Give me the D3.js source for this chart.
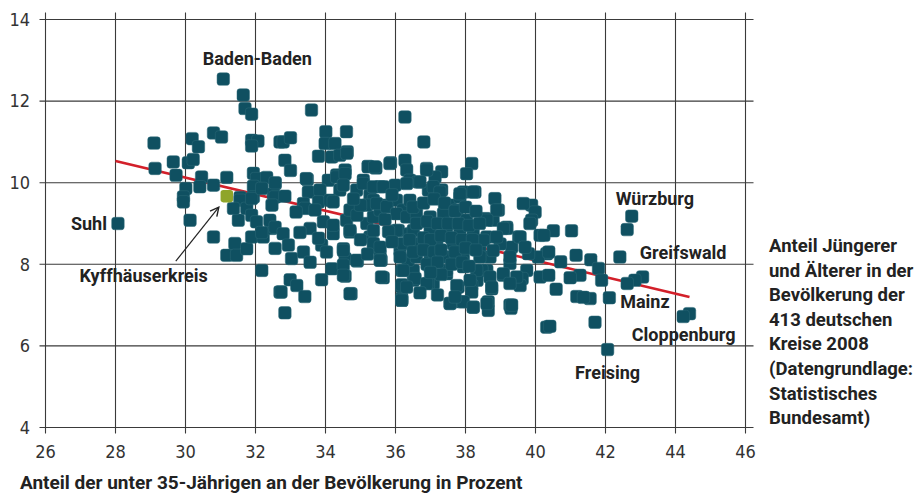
<!DOCTYPE html>
<html>
<head>
<meta charset="utf-8">
<script src="https://cdn.jsdelivr.net/npm/d3@7"></script>
<style>
  html, body { margin: 0; padding: 0; background: #fff; }
  svg { display: block; }
  .tick-label { font-family: "Liberation Sans Narrow", "DejaVu Sans Condensed", sans-serif; font-size: 18px; fill: #333; }
  .name { font-family: Roboto, "Noto Sans", sans-serif; font-weight: 700; font-size: 18px; fill: #222; }
  .note { font-family: Roboto, "Noto Sans", sans-serif; font-weight: 700; font-size: 18.5px; fill: #222; }
  .axis-title { font-family: Roboto, "Noto Sans", sans-serif; font-weight: 700; font-size: 19px; fill: #222; }
</style>
</head>
<body>
<svg id="chart" width="922" height="493"></svg>
<script>
// Share of under-35s in the population (%) and young/old ratio, one pair per district
const districts = [
  [28.07,9.0],[29.1,10.97],[29.13,10.35],[29.65,10.51],[29.73,10.18],[30.08,10.49],[30.22,10.57],[30.19,11.08],
  [30.37,10.88],[30.8,11.22],[31.03,11.12],[31.08,12.54],[31.65,12.15],[31.7,11.82],[31.89,11.68],[31.89,11.04],
  [32.07,11.02],[31.89,10.9],[32.7,11.0],[30.46,10.14],[30.41,9.9],[30.8,9.94],[31.18,10.13],[31.94,10.23],
  [32.03,10.1],[32.32,10.13],[31.94,9.91],[32.56,9.98],[30.01,9.86],[29.94,9.65],[31.56,9.64],[31.94,9.65],
  [32.51,9.73],[29.94,9.53],[30.13,9.08],[30.8,8.67],[31.18,8.22],[31.41,8.51],[31.46,8.22],[31.51,9.08],
  [31.56,9.57],[31.37,9.37],[31.75,9.37],[31.89,9.61],[31.89,9.2],[32.03,9.04],[31.75,8.38],[31.89,8.67],
  [32.22,8.67],[32.46,8.88],[32.41,9.08],[32.56,9.65],[32.18,7.85],[32.7,7.32],
  [33.6,11.78],[36.27,11.61],[32.79,11.0],[33.0,11.1],[34.01,11.25],[34.6,11.25],[33.99,10.96],[34.27,10.96],
  [33.8,10.65],[32.84,10.55],[34.18,10.63],[34.41,10.67],[34.62,10.76],[35.22,10.4],[35.44,10.36],[35.86,10.49],
  [36.27,10.55],[36.32,10.31],[34.56,10.31],[34.32,10.19],[34.08,10.06],[33.48,10.08],[32.56,10.0],[35.08,10.06],
  [35.56,9.9],[35.99,9.94],[36.41,10.06],[33.51,9.77],[33.84,9.82],[34.41,9.82],[34.89,9.82],[35.27,9.69],
  [35.37,9.57],[35.75,9.45],[33.37,9.49],[33.8,9.53],[34.13,9.57],
  [33.41,9.37],[32.56,8.91],[32.79,8.75],[32.94,8.47],[33.03,8.14],[33.37,8.3],[33.56,8.88],[33.94,9.04],
  [34.22,8.75],[33.89,8.47],[34.03,8.3],[34.51,8.38],[34.56,8.14],[34.18,7.89],[34.51,7.98],[34.56,7.71],
  [33.89,7.62],[34.91,8.08],[34.7,8.79],[34.6,9.08],[32.99,7.62],[33.18,7.48],[32.73,7.32],[33.41,7.21],
  [32.84,6.81],[34.73,7.28],[35.65,7.67],[35.59,8.1],[35.27,8.67],[35.37,8.42],[35.56,8.22],[36.13,8.34],
  [36.18,7.85],[36.51,7.85],[36.51,7.61],[36.18,7.44],[36.18,7.16],[36.36,8.1],[35.18,9.0],[35.37,9.16],
  [35.56,9.33],[36.03,9.57],[36.22,9.33],[36.08,8.83],[36.41,8.75],
  [33.0,10.3],[33.45,10.1],[32.18,9.86],[32.47,9.45],[32.84,9.67],[33.16,9.28],[33.7,9.33],[32.18,8.78],
  [33.27,8.78],[33.8,8.64],[32.56,8.39],[33.56,8.05],
  [36.81,11.0],[38.18,10.47],[38.03,10.22],[36.89,10.35],[37.32,10.27],[37.13,10.14],[36.65,10.02],[37.32,9.82],
  [36.94,9.82],[37.94,9.77],[38.27,9.77],[38.84,9.61],[39.89,9.45],[39.99,9.28],[39.89,9.08],[38.94,9.33],
  [38.56,9.12],[38.79,9.08],[36.41,9.57],[37.56,9.45],[37.84,9.65],[39.18,8.91],
  [39.18,8.88],[39.84,9.0],[39.52,8.67],[40.13,8.71],[40.32,8.26],[40.08,8.18],[39.8,8.26],[39.32,8.42],
  [38.99,8.5],[38.61,8.67],[38.41,8.34],[38.7,8.18],[39.27,8.02],[39.75,7.85],[40.13,7.69],[39.62,7.65],
  [39.56,7.48],[38.75,7.4],[39.08,7.73],[38.61,7.85],[38.47,7.85],[38.33,7.61],[38.18,7.48],[38.18,7.32],
  [38.22,6.95],[38.65,7.08],[38.65,6.87],[39.27,7.0],[39.3,6.92],[37.89,7.08],[37.56,7.04],[37.79,7.44],
  [37.46,7.77],[37.08,7.53],[36.94,7.53],[36.56,7.65],[36.18,7.12],[36.18,7.5],[40.32,6.46],
  [42.75,9.18],[42.62,8.85],[42.41,8.18],[41.03,8.82],[40.51,8.82],[40.24,8.71],[40.38,8.3],[41.16,8.22],
  [41.58,8.11],[40.72,8.06],[41.8,7.9],[41.27,7.73],[40.99,7.67],[40.38,7.73],[41.89,7.61],[43.06,7.69],
  [42.84,7.61],[42.62,7.53],[40.59,7.39],[41.18,7.21],[41.56,7.16],[41.37,7.19],[42.11,7.18],[44.4,6.79],
  [44.22,6.72],[41.7,6.58],[40.41,6.48],[42.06,5.91],
  [34.61,10.72],[35.22,10.39],[35.41,10.39],[35.84,10.47],[36.89,10.31],[34.32,10.14],[34.56,10.22],[34.51,9.94],
  [35.08,9.98],[35.37,9.9],[35.65,9.9],[36.32,9.98],[36.7,10.02],[37.08,9.9],[37.27,9.77],[37.84,9.73],
  [38.22,9.77],[38.89,9.33],[38.61,9.08],[39.08,8.88],[39.56,8.67],[39.7,8.42],[39.65,9.49],[34.22,9.53],
  [34.7,9.33],[35.18,9.45],[35.46,9.49],[35.75,9.41],[34.22,8.96],[34.7,8.83],[35.37,8.83],[35.37,8.51],
  [35.56,8.42],[34.51,8.34],[34.89,8.1],[35.56,8.1],[34.51,7.73],[35.6,7.69],[34.7,7.28],
  [36.03,9.24],[36.32,9.16],[36.6,9.24],[36.99,9.16],[37.37,9.24],[37.75,9.33],[38.03,9.08],[38.22,8.83],
  [36.03,8.83],[36.51,8.83],[36.99,8.83],[37.46,8.83],[37.84,8.75],[36.22,8.51],[36.7,8.51],[37.18,8.51],
  [37.65,8.51],[38.13,8.51],[38.51,8.59],[38.89,8.67],[36.13,8.18],[36.6,8.18],[36.99,8.1],[37.46,8.18],
  [37.94,8.18],[38.41,8.18],[38.79,8.34],[39.27,8.18],[36.22,7.85],[36.99,7.94],[37.46,7.85],[37.94,7.94],
  [38.32,7.85],[38.7,7.69],[39.08,7.77],[39.46,7.69],[36.32,7.44],[36.89,7.53],[37.75,7.48],[38.13,7.61],
  [38.75,7.44],[39.27,7.53],[36.18,7.12],[37.56,7.04],[37.94,7.08],[38.22,6.95],[38.61,7.04],[39.32,7.0],
  [36.5,9.4],[36.8,9.5],[37.1,9.6],[37.4,9.5],[37.7,9.3],[38.0,9.4],[38.3,9.3],[36.6,9.0],
  [36.9,9.05],[37.2,9.0],[37.5,9.0],[37.8,9.0],[38.1,8.95],[38.4,9.0],[36.4,8.6],[36.8,8.65],
  [37.0,8.6],[37.3,8.7],[37.6,8.65],[37.9,8.6],[38.2,8.6],[36.5,8.3],[36.8,8.35],[37.1,8.3],
  [37.3,8.35],[37.7,8.3],[38.0,8.4],[38.3,8.35],[36.9,8.0],[37.2,8.05],[37.6,8.0],[37.9,8.05],
  [38.1,7.95],[37.3,7.75],[37.0,7.8],[36.7,7.3],[37.2,7.25],[37.7,7.2],[35.8,8.8],[35.9,8.55],
  [35.7,9.1],[35.9,9.7],[35.2,8.25],[35.0,8.6],[34.9,9.2],[35.0,9.45],[34.8,9.6]
];

// Highlighted district
const highlight = [31.18, 9.67];

// Named districts: [name, share under 35, ratio]
const namedDistricts = [
  ["Baden-Baden", 31.08, 12.54],
  ["Suhl", 28.07, 9.0],
  ["Kyffhäuserkreis", 31.18, 9.67],
  ["Würzburg", 42.75, 9.18],
  ["Greifswald", 42.41, 8.18],
  ["Mainz", 42.62, 7.53],
  ["Cloppenburg", 44.4, 6.79],
  ["Freising", 42.06, 5.91]
];

// Regression line endpoints
const trendX = [28, 44.4];
const trendY = [10.53, 7.2];

const xTicks = [26, 28, 30, 32, 34, 36, 38, 40, 42, 44, 46];
const yTicks = [4, 6, 8, 10, 12, 14];

const noteLines = [
  "Anteil Jüngerer",
  "und Älterer in der",
  "Bevölkerung der",
  "413 deutschen",
  "Kreise 2008",
  "(Datengrundlage:",
  "Statistisches",
  "Bundesamt)"
];
const xTitle = "Anteil der unter 35-Jährigen an der Bevölkerung in Prozent";

const svg = d3.select("#chart");
const x = d3.scaleLinear().domain([26, 46]).range([45.5, 745.5]);
const y = d3.scaleLinear().domain([4, 14]).range([427.5, 19.5]);

const gridColor = "#3a3a3a";

// horizontal grid lines
svg.append("g").selectAll("line").data(yTicks).join("line")
  .attr("x1", x(26) - 6).attr("x2", x(46) + 8)
  .attr("y1", d => y(d)).attr("y2", d => y(d))
  .attr("stroke", gridColor).attr("stroke-width", 1.1);

// vertical grid lines
svg.append("g").selectAll("line").data(xTicks).join("line")
  .attr("x1", d => x(d)).attr("x2", d => x(d))
  .attr("y1", y(14) - 7).attr("y2", y(4) + 6)
  .attr("stroke", gridColor).attr("stroke-width", 1.1);

// tick labels
svg.append("g").selectAll("text").data(yTicks).join("text")
  .attr("class", "tick-label")
  .attr("x", 30).attr("y", d => y(d)).attr("dy", "0.35em")
  .attr("text-anchor", "end").text(d => d);

svg.append("g").selectAll("text").data(xTicks).join("text")
  .attr("class", "tick-label")
  .attr("x", d => x(d)).attr("y", 458)
  .attr("text-anchor", "middle").text(d => d);

// trend line
svg.append("line")
  .attr("x1", x(trendX[0])).attr("y1", y(trendY[0]))
  .attr("x2", x(trendX[1])).attr("y2", y(trendY[1]))
  .attr("stroke", "#d3202a").attr("stroke-width", 2.6);

// district markers
const size = 12.5;
svg.append("g").selectAll("rect").data(districts).join("rect")
  .attr("x", d => x(d[0]) - size / 2).attr("y", d => y(d[1]) - size / 2)
  .attr("width", size).attr("height", size).attr("rx", 2.8)
  .attr("fill", "#0f5061").attr("stroke", "#2f6a79").attr("stroke-width", 0.5);

svg.append("rect")
  .attr("x", x(highlight[0]) - size / 2).attr("y", y(highlight[1]) - size / 2)
  .attr("width", size).attr("height", size).attr("rx", 2.8)
  .attr("fill", "#8fa52a");

// name labels, placed relative to their district
const labelOffsets = {
  "Baden-Baden": [34, -14, "middle"],
  "Suhl": [-11, 6, "end"],
  "Kyffhäuserkreis": [-19, 86, "end"],
  "Würzburg": [-16, -11, "start"],
  "Greifswald": [20, 2, "start"],
  "Mainz": [-7, 25, "start"],
  "Cloppenburg": [46, 27, "end"],
  "Freising": [0, 29, "middle"]
};
svg.append("g").selectAll("text").data(namedDistricts).join("text")
  .attr("class", "name")
  .attr("x", d => x(d[1]) + labelOffsets[d[0]][0])
  .attr("y", d => y(d[2]) + labelOffsets[d[0]][1])
  .attr("text-anchor", d => labelOffsets[d[0]][2])
  .text(d => d[0]);

// arrow pointing at the highlighted district
const defs = svg.append("defs");
defs.append("marker").attr("id", "arrow")
  .attr("viewBox", "0 0 10 10").attr("refX", 9).attr("refY", 5)
  .attr("markerWidth", 9).attr("markerHeight", 9).attr("orient", "auto")
  .append("path").attr("d", "M1,1 L9,5 L1,9")
  .attr("fill", "none").attr("stroke", "#222").attr("stroke-width", 1.3);

const hx = x(highlight[0]), hy = y(highlight[1]);
svg.append("line")
  .attr("x1", hx - 51).attr("y1", hy + 65)
  .attr("x2", hx - 8).attr("y2", hy + 11)
  .attr("stroke", "#222").attr("stroke-width", 1.2)
  .attr("marker-end", "url(#arrow)");

// side note
svg.append("text").attr("class", "note")
  .selectAll("tspan").data(noteLines).join("tspan")
  .attr("x", 769).attr("y", (d, i) => 252 + i * 24.6)
  .text(d => d);

// x axis title
svg.append("text").attr("class", "axis-title")
  .attr("x", 20).attr("y", 489).text(xTitle);
</script>
</body>
</html>
